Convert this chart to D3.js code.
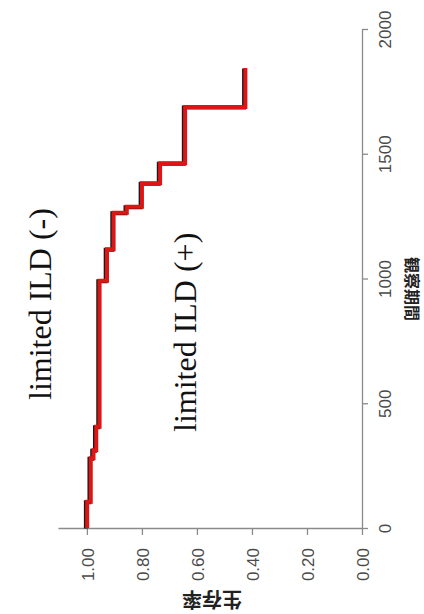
<!DOCTYPE html>
<html>
<head>
<meta charset="utf-8">
<script src="https://cdn.jsdelivr.net/npm/d3@7"></script>
<style>
  html, body { margin: 0; padding: 0; background: #fff; }
  svg { display: block; }
</style>
</head>
<body>
<svg id="chart" width="424" height="614"></svg>
<script>
// Kaplan–Meier survival, drawn turned on its side: time runs upward, survival runs leftward.
const eventTimes = [0, 105, 280, 312, 406, 991, 1117, 1264, 1288, 1382, 1462, 1687, 1844];
const survival   = [1.00, 0.987, 0.977, 0.967, 0.955, 0.928, 0.904, 0.856, 0.801, 0.735, 0.644, 0.425, 0.425];
const timeTicks = [0, 500, 1000, 1500, 2000];
const survTicks = [0, 0.2, 0.4, 0.6, 0.8, 1.0];
const groupLabels = ["limited ILD (-)", "limited ILD (+)"];
const timeTitle = "観察期間";
const survTitle = "生存率";

const svg = d3.select("#chart");

const tScale = d3.scaleLinear().domain([0, 2000]).range([528, 29]);
const sScale = d3.scaleLinear().domain([0, 1.105]).range([362, 58]);

const axisGrey = "#8a8a8a";
const labelGrey = "#4a4a4a";

// Survival axis along the bottom
const sAxis = svg.append("g")
  .attr("transform", "translate(0,528)")
  .call(d3.axisBottom(sScale).tickValues(survTicks).tickFormat(d3.format(".2f")).tickSize(7).tickSizeOuter(0));
sAxis.select(".domain").attr("stroke", axisGrey).attr("stroke-width", 1.3);
sAxis.selectAll(".tick line").attr("stroke", axisGrey).attr("stroke-width", 1.3);
sAxis.selectAll(".tick text")
  .attr("transform", "translate(0,20) rotate(-90)")
  .attr("x", 0).attr("y", 0).attr("dy", "0.36em")
  .attr("text-anchor", "end")
  .attr("font-family", "Liberation Sans, Arial, sans-serif")
  .attr("font-size", 17)
  .attr("fill", labelGrey);

// Time axis up the right side
const tAxis = svg.append("g")
  .attr("transform", "translate(362,0)")
  .call(d3.axisRight(tScale).tickValues(timeTicks).tickFormat(d3.format("d")).tickSize(6).tickSizeOuter(0));
tAxis.select(".domain").attr("stroke", axisGrey).attr("stroke-width", 1.3);
tAxis.selectAll(".tick line").attr("stroke", axisGrey).attr("stroke-width", 1.3);
tAxis.selectAll(".tick text")
  .attr("transform", "translate(23,0) rotate(-90)")
  .attr("x", 0).attr("y", 0).attr("dy", "0.36em")
  .attr("text-anchor", "middle")
  .attr("font-family", "Liberation Sans, Arial, sans-serif")
  .attr("font-size", 17)
  .attr("fill", labelGrey);

// Axis titles
svg.append("text")
  .attr("transform", "translate(412,289) rotate(90)")
  .attr("text-anchor", "middle")
  .attr("dy", "0.36em")
  .attr("font-family", "Noto Sans CJK JP, sans-serif")
  .attr("font-weight", "bold")
  .attr("font-size", 16)
  .attr("fill", "#222")
  .text(timeTitle);

svg.append("text")
  .attr("transform", "translate(212,599) rotate(180)")
  .attr("text-anchor", "middle")
  .attr("dy", "0.36em")
  .attr("font-family", "Noto Sans CJK JP, sans-serif")
  .attr("font-weight", "bold")
  .attr("font-size", 20)
  .attr("fill", "#222")
  .text(survTitle);

// Survival step curve: a dark under-stroke peeking out beside the red line
const pts = eventTimes.map((t, i) => ({ t, s: survival[i] }));
const stepLine = d3.line()
  .x(d => sScale(d.s))
  .y(d => tScale(d.t))
  .curve(d3.curveStepBefore);

svg.append("path")
  .datum(pts)
  .attr("d", stepLine)
  .attr("transform", "translate(-1,0.5)")
  .attr("fill", "none")
  .attr("stroke", "#1a1a1a")
  .attr("stroke-width", 4);

svg.append("path")
  .datum(pts)
  .attr("d", stepLine)
  .attr("transform", "translate(0.3,0)")
  .attr("fill", "none")
  .attr("stroke", "#dd1515")
  .attr("stroke-width", 4);

// Group annotations
svg.append("text")
  .attr("transform", "translate(51,400) rotate(-90)")
  .attr("font-family", "Liberation Serif, Times New Roman, serif")
  .attr("font-size", 32)
  .attr("fill", "#111")
  .text(groupLabels[0]);

svg.append("text")
  .attr("transform", "translate(196,432) rotate(-90)")
  .attr("font-family", "Liberation Serif, Times New Roman, serif")
  .attr("font-size", 32)
  .attr("fill", "#111")
  .text(groupLabels[1]);
</script>
</body>
</html>
